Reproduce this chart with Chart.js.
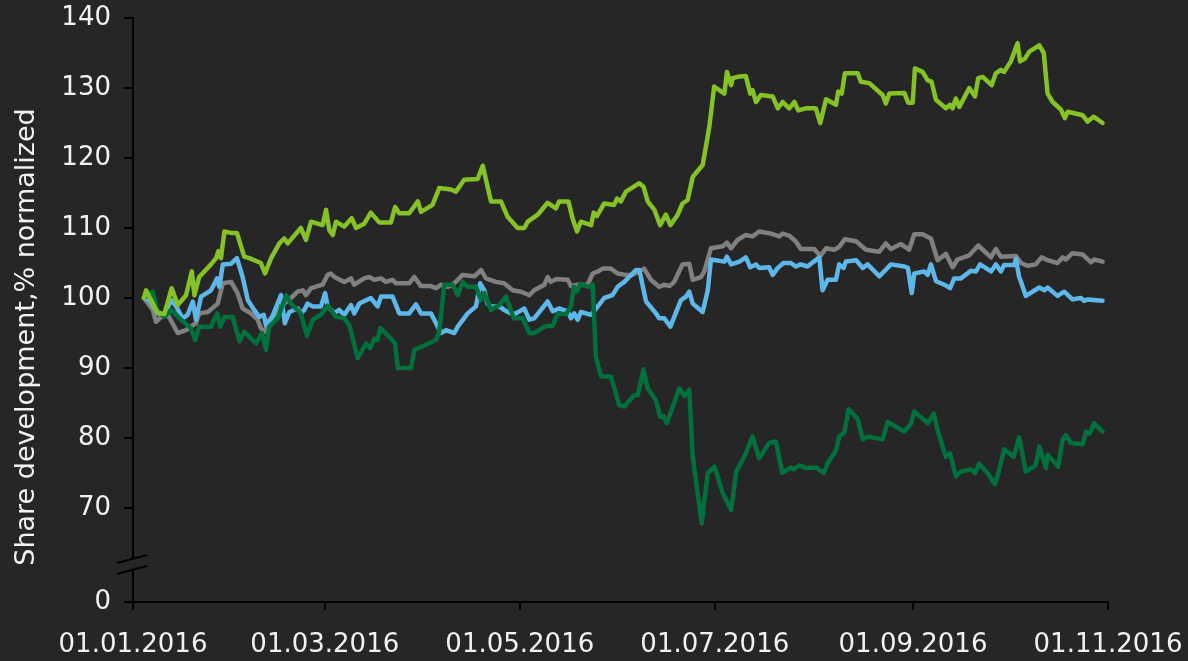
<!DOCTYPE html>
<html>
<head>
<meta charset="utf-8">
<title>Share development</title>
<script src="https://cdn.jsdelivr.net/npm/chart.js@4.4.1/dist/chart.umd.min.js"></script>
<style>
  html, body { margin: 0; padding: 0; background: #262626; }
  #wrap { width: 1188px; height: 661px; }
</style>
</head>
<body>
<div id="wrap"><canvas id="shareChart" width="1188" height="661"></canvas></div>
<script>
// x values are days since 01.01.2016, y values are % (normalized to 100)
const xTickDays = [0, 60, 121, 182, 244, 305];
const xTickLabels = ['01.01.2016', '01.03.2016', '01.05.2016', '01.07.2016', '01.09.2016', '01.11.2016'];
const yTickValues = [70, 80, 90, 100, 110, 120, 130, 140];
const yTitle = 'Share development,% normalized';

const limeDays = [3.4,4.1,7.7,9.8,12.1,14.0,16.6,18.4,19.2,20.7,24.4,26.0,26.7,27.5,28.6,30.7,32.5,34.8,36.4,40.0,
  41.3,43.2,45.8,47.3,48.4,52.5,54.1,55.7,59.3,60.4,61.4,62.5,63.5,66.1,68.4,69.8,72.3,74.4,77.0,80.7,
  82.0,83.3,86.4,89.1,90.1,93.7,95.8,99.5,101.0,103.6,107.8,109.4,112.0,115.1,117.2,120.3,122.4,123.5,126.6,129.7,
  132.3,133.3,136.2,137.5,138.9,140.1,143.3,144.1,145.1,147.4,150.5,151.4,152.6,154.2,158.4,159.7,161.0,163.1,164.9,166.7,
  168.1,170.4,171.9,173.5,175.1,178.2,179.2,180.3,181.8,185.0,185.8,187.1,187.6,189.1,191.7,193.1,193.8,194.9,196.4,200.1,
  201.7,203.2,205.3,206.9,208.1,210.5,213.6,215.0,216.8,219.9,220.6,221.7,222.7,226.7,227.7,230.3,234.5,235.5,236.6,241.3,
  242.5,243.9,244.6,247.0,248.6,249.8,251.2,254.3,255.6,256.4,257.4,258.5,261.6,263.4,264.4,265.8,268.6,269.9,271.5,272.5,
  274.6,276.7,277.5,279.0,280.4,283.5,284.9,286.1,287.7,290.3,291.5,292.4,294.4,297.1,298.6,300.5,303.3];
const limeValues = [100.0,101.1,97.9,97.7,101.4,99.0,100.4,103.8,100.4,103.0,104.8,105.7,106.7,105.7,109.5,109.3,109.3,105.9,105.7,105.0,
  103.5,105.7,107.8,108.5,107.8,110.0,108.3,110.9,110.4,112.6,109.7,109.0,110.9,110.2,111.4,110.0,110.6,112.2,110.8,110.8,
  113.0,112.1,112.1,113.8,112.3,113.3,115.7,115.5,115.2,116.9,117.0,118.9,113.8,113.8,111.6,110.0,110.0,110.9,111.9,113.6,
  112.8,113.8,113.8,111.4,109.5,110.9,110.4,112.2,111.7,113.5,113.3,114.2,113.8,115.2,116.4,115.9,113.8,112.6,110.4,111.9,
  110.4,111.9,113.5,114.0,117.3,119.0,121.6,124.5,130.2,129.2,132.3,130.4,131.4,131.6,131.7,129.2,129.7,128.0,129.0,128.8,
  127.1,128.0,127.1,128.0,126.8,127.1,127.1,125.0,128.4,127.6,129.5,129.2,132.1,132.1,130.9,130.7,129.0,127.8,129.2,129.3,
  127.9,127.9,132.8,132.3,131.1,130.9,128.3,127.1,127.6,127.1,128.5,127.3,130.0,128.8,131.4,131.6,130.4,132.1,132.6,132.3,
  133.8,136.4,133.8,134.2,135.2,136.1,135.0,129.2,128.0,126.9,125.7,126.6,126.4,126.1,125.2,125.9,125.0];

const grayDays = [3.4,6.2,7.2,8.8,10.9,14.0,16.6,19.7,20.7,23.4,26.5,28.1,30.7,32.7,34.3,36.9,39.0,40.0,41.3,42.6,
  45.3,47.3,49.4,51.5,53.1,54.1,55.7,59.3,60.9,61.9,63.0,66.1,68.2,69.2,72.3,73.9,75.5,77.6,79.1,81.2,
  82.3,86.4,88.0,90.1,93.2,94.8,96.3,98.4,100.0,101.6,103.1,106.8,108.9,110.4,113.5,116.1,118.8,121.4,124.0,125.5,
  128.7,129.7,130.7,132.3,136.0,137.0,139.1,142.2,143.8,145.5,146.9,149.5,151.6,154.2,156.3,159.9,162.0,164.6,166.2,167.8,
  169.3,171.9,174.0,175.1,177.7,178.7,180.8,184.5,185.8,187.1,189.1,191.7,193.8,195.9,199.6,202.2,203.2,205.3,207.3,208.9,
  213.1,215.0,216.8,219.4,220.9,222.7,226.2,229.3,233.4,235.5,237.1,240.2,242.8,244.4,247.0,249.6,251.7,254.3,256.4,257.9,
  261.6,264.4,268.4,269.9,271.5,276.2,277.8,279.9,282.4,284.2,286.1,289.2,290.8,291.8,293.9,297.1,299.7,300.7,303.3];
const grayValues = [100.0,98.3,96.6,97.3,97.6,95.0,95.4,96.4,97.8,98.0,99.2,102.1,102.3,100.7,98.5,97.8,96.9,95.7,95.2,96.9,
  98.0,99.2,100.0,100.9,101.1,100.4,101.4,101.9,103.3,103.5,103.0,102.3,102.8,101.9,102.8,103.0,102.6,102.8,102.3,102.6,
  102.1,102.1,103.0,101.7,101.7,101.4,101.9,101.6,101.9,102.6,103.3,103.1,104.0,102.8,102.3,102.1,101.1,100.9,100.4,101.1,
  101.9,103.0,102.3,102.7,102.6,101.7,101.9,101.9,103.5,103.8,104.2,104.2,103.5,103.3,103.3,104.2,102.6,101.6,101.9,101.7,
  102.3,104.8,104.9,102.6,103.0,103.8,107.1,107.4,107.9,107.1,108.3,109.0,108.8,109.5,109.2,108.8,109.2,108.9,108.1,107.0,
  107.0,106.0,107.1,106.9,107.3,108.4,108.1,106.9,106.6,107.8,107.0,107.7,106.9,109.1,109.1,108.5,105.4,106.3,104.4,105.5,
  106.1,107.5,105.8,107.0,105.9,106.0,105.0,104.6,104.8,105.8,105.4,105.0,105.8,105.5,106.4,106.2,105.1,105.5,105.2];

const blueDays = [3.4,5.1,7.7,9.8,11.9,13.5,15.5,17.1,18.7,19.7,21.3,24.4,26.3,27.0,28.1,30.7,32.5,34.3,35.9,37.9,
  39.5,40.9,41.6,43.2,46.3,47.5,48.9,51.5,52.5,53.6,54.6,56.2,58.8,60.1,60.9,63.0,64.5,66.1,68.2,69.2,
  70.8,74.4,76.5,77.6,81.2,83.3,86.4,88.5,90.1,93.2,94.8,96.3,97.9,100.5,101.6,104.7,107.3,108.6,109.9,110.9,
  112.0,114.6,116.1,118.2,119.8,122.4,124.0,125.5,129.7,131.3,133.3,136.0,137.0,138.0,139.1,140.1,143.3,145.4,147.4,150.0,
  151.6,153.7,157.3,158.4,160.5,163.6,164.6,166.2,168.1,171.4,173.0,174.0,175.1,178.2,179.8,180.8,185.0,185.8,187.1,189.7,
  191.7,193.1,194.9,195.9,199.0,200.1,201.7,203.5,205.8,207.3,208.9,211.0,214.7,215.7,217.3,219.9,220.9,222.3,223.0,226.2,
  228.3,229.8,233.5,237.1,241.3,242.4,243.6,244.4,247.5,248.6,249.6,251.2,253.8,255.6,256.9,259.0,262.1,263.7,265.0,268.4,
  269.9,271.5,272.5,275.7,276.2,277.2,277.8,279.3,283.5,285.1,286.1,289.2,291.3,293.9,296.5,297.5,298.6,303.3];
const blueValues = [100.0,99.7,97.8,97.6,99.7,98.8,97.1,97.6,99.5,96.9,100.2,101.1,102.8,101.6,104.8,104.9,105.7,103.0,99.7,98.3,
  97.3,97.6,96.1,96.9,100.4,96.4,98.0,98.5,97.8,98.3,99.2,98.8,98.8,100.7,98.8,97.8,98.3,97.6,99.0,97.8,
  99.2,100.0,98.8,100.2,100.2,97.8,97.8,99.1,97.8,97.8,96.4,95.0,95.4,95.0,95.9,97.8,98.8,102.1,101.1,99.2,
  98.8,98.8,98.3,97.8,97.8,98.5,96.9,97.1,99.5,98.1,98.5,98.1,97.1,97.8,96.9,98.0,97.6,98.8,100.0,100.4,
  101.6,102.3,104.0,104.0,99.5,97.8,97.1,97.1,95.9,99.7,100.2,100.9,99.2,98.0,101.1,105.5,105.2,105.9,104.8,105.2,
  105.8,104.4,104.8,104.3,104.4,103.3,104.3,105.0,105.0,104.5,104.8,104.5,105.8,101.1,102.6,102.6,104.8,104.3,105.2,105.4,
  104.3,104.8,103.1,104.8,104.5,104.3,100.7,103.5,103.8,103.3,104.8,102.4,101.9,101.4,102.8,102.8,103.9,103.8,104.8,103.8,
  104.8,103.8,104.7,104.7,105.6,103.0,102.3,100.3,101.5,101.1,101.5,100.3,100.9,99.8,100.0,99.6,99.8,99.6];

const darkGreenDays = [3.4,6.2,7.5,9.8,11.9,15.0,18.1,19.4,20.7,24.4,26.3,27.3,28.6,31.2,33.3,34.8,38.5,40.3,41.6,42.6,
  45.3,47.9,49.4,52.5,54.4,56.2,58.8,60.9,63.5,66.1,67.7,70.3,72.9,74.2,75.5,76.5,77.4,80.7,82.0,82.8,
  87.0,88.0,90.1,94.8,95.8,97.4,100.0,101.6,103.1,104.7,107.3,108.9,109.9,112.0,114.6,116.7,119.1,121.9,124.0,125.5,
  129.2,131.3,132.8,135.5,137.0,137.9,138.9,139.9,142.7,143.8,144.8,146.4,149.5,152.1,153.7,156.8,157.9,159.7,161.0,163.6,
  164.9,166.0,167.0,170.9,172.5,174.0,175.1,177.9,179.8,181.9,184.5,187.1,188.7,191.7,193.8,195.9,199.0,201.1,203.1,205.8,
  206.7,208.4,210.5,213.6,216.1,217.3,219.9,220.9,222.5,223.9,226.7,228.3,229.8,234.5,236.1,241.3,243.4,244.4,248.6,250.5,
  251.7,254.3,255.6,257.4,259.0,262.1,263.4,264.7,267.3,269.6,270.7,272.5,275.5,277.2,279.3,282.4,283.5,285.6,286.1,289.4,
  290.8,291.8,293.4,297.1,298.1,299.2,300.7,303.3];
const darkGreenValues = [100.0,100.9,98.3,97.3,98.3,96.9,95.7,94.0,95.9,95.9,97.8,95.9,97.3,97.3,93.8,95.2,93.5,95.0,92.6,95.9,
  97.1,100.4,99.2,97.8,94.6,96.9,97.6,98.9,97.3,97.1,96.1,91.4,93.5,92.8,94.2,94.0,95.7,94.2,93.5,90.0,
  90.0,92.6,93.0,94.0,95.2,101.9,101.9,100.4,102.3,101.6,101.6,99.7,100.7,98.3,99.0,100.2,97.1,97.1,95.0,95.0,
  96.0,96.0,97.7,97.7,98.8,101.6,100.9,102.0,101.6,101.9,91.6,88.8,88.8,84.7,84.5,86.1,86.1,89.8,87.1,85.4,
  83.0,83.1,82.1,87.1,86.0,86.9,77.3,67.8,75.0,75.9,72.1,69.7,75.2,77.8,80.2,77.1,79.3,79.5,75.0,75.8,
  75.5,76.1,75.7,75.8,75.0,76.4,78.2,80.2,80.8,84.1,82.7,79.8,80.2,79.8,82.3,80.9,82.1,83.8,82.1,83.5,
  81.1,77.3,77.8,74.5,75.2,75.5,75.0,76.3,75.0,73.4,75.0,78.4,77.3,80.1,75.2,76.1,78.8,75.7,77.6,75.9,
  79.7,80.4,79.3,79.1,80.9,80.6,82.1,80.9];

const BG = '#262626';
const TEXT = '#f2f2f2';
const FONT = 'DejaVu Sans';
// the value axis is broken below 70: the "0" tick sits a short step under 70
const Y_FLOOR = 70 - 94 / 7;

function points(days, values) {
  return days.map((d, i) => ({ x: d, y: values[i] }));
}

function lineSet(label, days, values, color) {
  return {
    label: label,
    data: points(days, values),
    borderColor: color,
    borderWidth: 4.5,
    borderJoinStyle: 'round',
    borderCapStyle: 'round',
    pointRadius: 0,
    tension: 0,
    fill: false
  };
}

// draws the break marks on the value axis and the rotated axis title
const axisExtras = {
  id: 'axisExtras',
  afterDraw(chart) {
    const { ctx, chartArea } = chart;
    const x = chartArea.left, b = chartArea.bottom;
    ctx.save();
    ctx.fillStyle = BG;
    ctx.beginPath();
    ctx.moveTo(x - 16, b - 39);
    ctx.lineTo(x + 14, b - 47);
    ctx.lineTo(x + 14, b - 36);
    ctx.lineTo(x - 16, b - 28);
    ctx.closePath();
    ctx.fill();
    ctx.strokeStyle = '#000';
    ctx.lineWidth = 2;
    ctx.beginPath();
    ctx.moveTo(x - 16, b - 39); ctx.lineTo(x + 14, b - 47);
    ctx.moveTo(x - 16, b - 28); ctx.lineTo(x + 14, b - 36);
    ctx.stroke();

    ctx.translate(27, 337);
    ctx.rotate(-Math.PI / 2);
    ctx.fillStyle = TEXT;
    ctx.font = '27px "' + FONT + '"';
    ctx.textAlign = 'center';
    ctx.textBaseline = 'middle';
    ctx.fillText(yTitle, 0, 0);
    ctx.restore();
  }
};

new Chart(document.getElementById('shareChart'), {
  type: 'line',
  data: {
    datasets: [
      lineSet('Series 1', limeDays, limeValues, '#84c225'),
      lineSet('Series 2', darkGreenDays, darkGreenValues, '#00703c'),
      lineSet('Series 3', blueDays, blueValues, '#5db7e8'),
      lineSet('Series 4', grayDays, grayValues, '#808080')
    ]
  },
  options: {
    responsive: false,
    animation: false,
    devicePixelRatio: 1,
    layout: { padding: { top: 18, right: 80, left: 0, bottom: 0 } },
    plugins: {
      legend: { display: false },
      tooltip: { enabled: false }
    },
    scales: {
      x: {
        type: 'linear',
        min: 0,
        max: 305,
        afterBuildTicks: s => { s.ticks = xTickDays.map(v => ({ value: v })); },
        afterFit: s => { s.height = 59; s.paddingLeft = 0; s.paddingRight = 0; },
        ticks: {
          callback: (v, i) => xTickLabels[i],
          autoSkip: false,
          maxRotation: 0,
          color: TEXT,
          font: { family: FONT, size: 26 },
          padding: 20
        },
        grid: { drawOnChartArea: false, color: '#000', lineWidth: 2, tickLength: 8 },
        border: { color: '#000', width: 2 }
      },
      y: {
        type: 'linear',
        min: Y_FLOOR,
        max: 140,
        afterBuildTicks: s => { s.ticks = [Y_FLOOR].concat(yTickValues).map(v => ({ value: v })); },
        afterFit: s => { s.width = 133; s.paddingTop = 0; s.paddingBottom = 0; },
        ticks: {
          callback: v => (Math.abs(v - Y_FLOOR) < 1e-6 ? '0' : v),
          color: TEXT,
          font: { family: FONT, size: 26 },
          padding: 13
        },
        grid: { drawOnChartArea: false, color: '#000', lineWidth: 2, tickLength: 9 },
        border: { color: '#000', width: 2 }
      }
    }
  },
  plugins: [axisExtras]
});
</script>
</body>
</html>
